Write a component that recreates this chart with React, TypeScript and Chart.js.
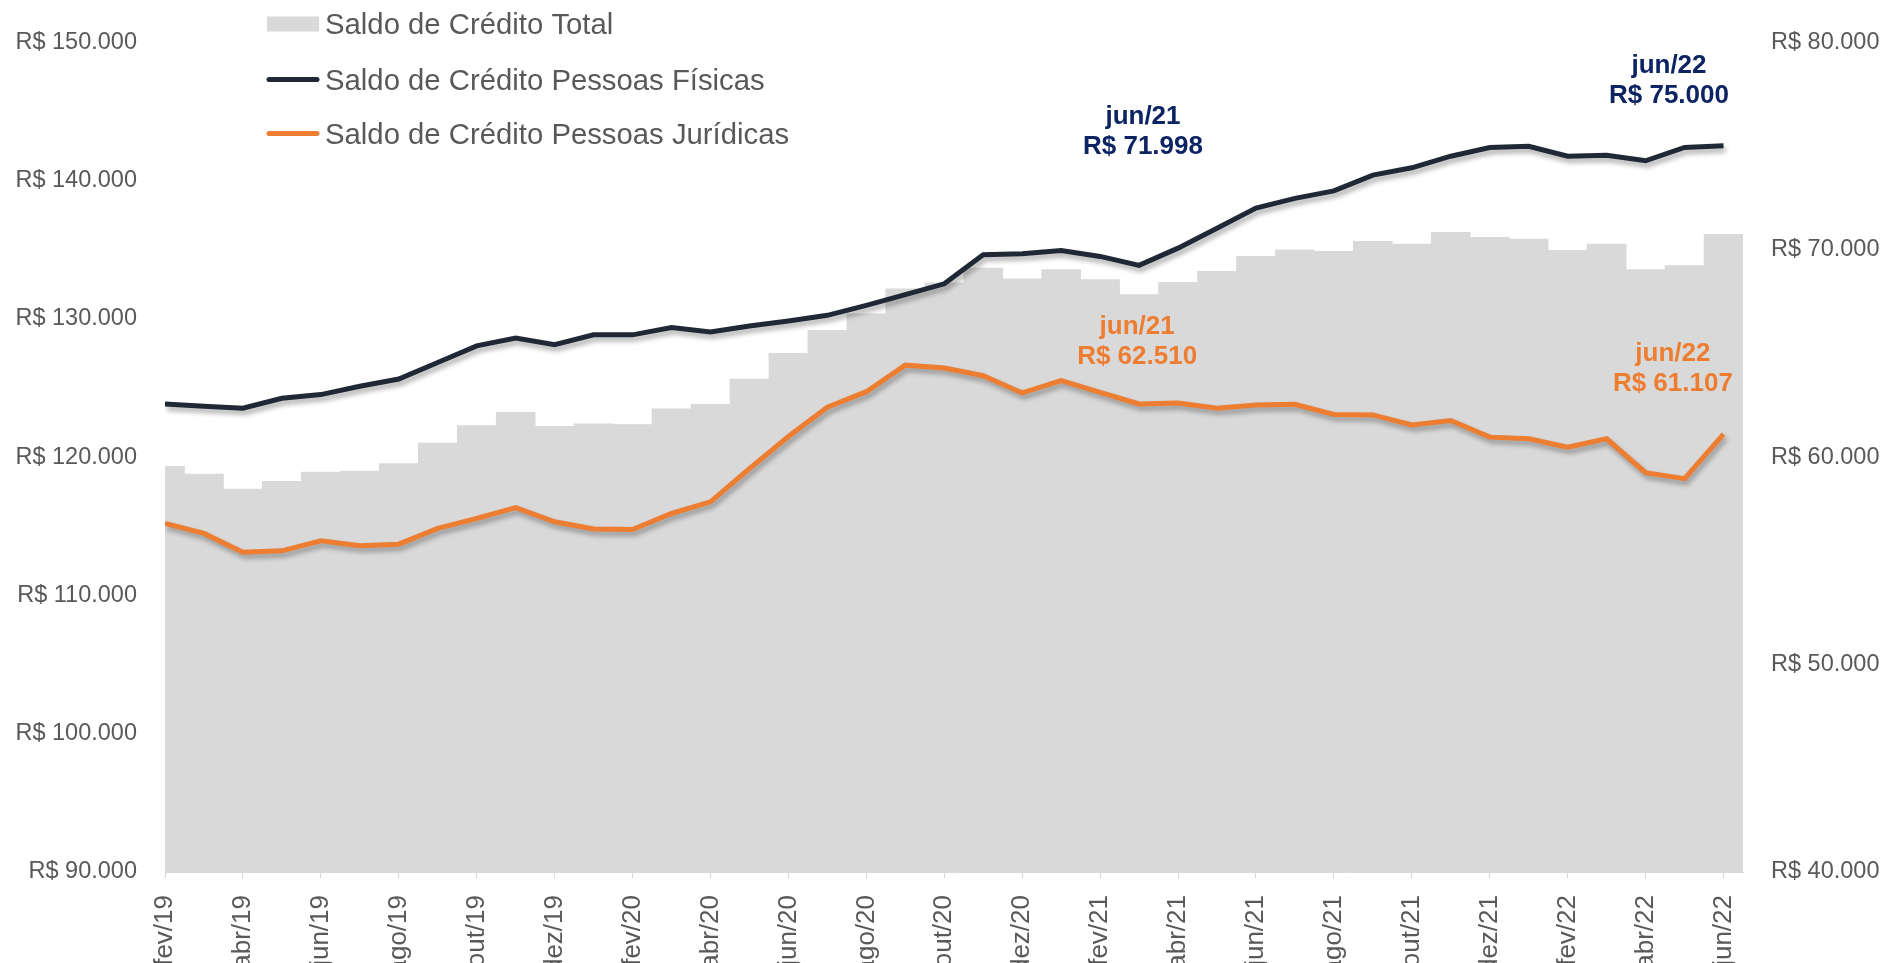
import React, { useEffect, useRef } from 'react';
import { Chart, registerables } from 'chart.js';

Chart.register(...registerables);

// ---------- DATA ----------
const MONTHS = [
  'fev/19', 'mar/19', 'abr/19', 'mai/19', 'jun/19', 'jul/19', 'ago/19', 'set/19', 'out/19', 'nov/19', 'dez/19',
  'jan/20', 'fev/20', 'mar/20', 'abr/20', 'mai/20', 'jun/20', 'jul/20', 'ago/20', 'set/20', 'out/20', 'nov/20', 'dez/20',
  'jan/21', 'fev/21', 'mar/21', 'abr/21', 'mai/21', 'jun/21', 'jul/21', 'ago/21', 'set/21', 'out/21', 'nov/21', 'dez/21',
  'jan/22', 'fev/22', 'mar/22', 'abr/22', 'mai/22', 'jun/22',
];

const SALDO_TOTAL = [
  119330, 118760, 117680, 118250, 118920, 118990, 119520, 121010, 122280, 123240, 122230,
  122400, 122350, 123480, 123810, 125630, 127500, 129160, 130360, 132160, 132600, 133670, 132880,
  133550, 132830, 131750, 132640, 133430, 134510, 134990, 134870, 135590, 135400, 136240, 135880,
  135760, 134940, 135400, 133550, 133840, 136110,
];

const SALDO_PF = [
  62560, 62450, 62350, 62830, 63010, 63410, 63760, 64560, 65360, 65740, 65420,
  65890, 65890, 66240, 66030, 66320, 66560, 66830, 67310, 67830, 68350, 69750, 69800,
  69960, 69670, 69240, 70070, 71030, 71998, 72470, 72830, 73590, 73940, 74500, 74920,
  74980, 74500, 74550, 74280, 74920, 75000,
];

const SALDO_PJ = [
  56800, 56320, 55410, 55480, 55960, 55720, 55800, 56560, 57040, 57560, 56880,
  56530, 56510, 57280, 57840, 59440, 60990, 62400, 63150, 64430, 64290, 63920, 63090,
  63680, 63120, 62560, 62610, 62350, 62510, 62540, 62050, 62030, 61550, 61760, 60960,
  60880, 60480, 60880, 59250, 58960, 61107,
];

const LEFT_AXIS = { min: 90000, max: 150000, step: 10000 };
const RIGHT_AXIS = { min: 40000, max: 80000, step: 10000 };
const LABEL_EVERY = 2;

const SERIES_NAMES = [
  'Saldo de Crédito Total',
  'Saldo de Crédito Pessoas Físicas',
  'Saldo de Crédito Pessoas Jurídicas',
];

// indices of highlighted months (jun/21 and jun/22)
const HIGHLIGHT_INDICES = [28, 40];

// ---------- STYLE ----------
const FONT = "'Liberation Sans', Arial, Helvetica, sans-serif";
const GRAY_TEXT = '#595959';
const BAR_GRAY = '#d9d9d9';
const PF_COLOR = '#1f2834';
const PJ_COLOR = '#ed7d31';
const NAVY = '#0d2463';

const fmt = (v: number) => 'R$ ' + Math.round(v).toString().replace(/\B(?=(\d{3})+(?!\d))/g, '.');

const shadowPlugin = {
  id: 'lineShadow',
  beforeDatasetDraw(chart: any, args: any) {
    const ds = chart.data.datasets[args.index];
    if (ds.type !== 'line') return;
    const ctx = chart.ctx;
    ctx.save();
    ctx.shadowColor = 'rgba(0,0,0,0.32)';
    ctx.shadowBlur = 5;
    ctx.shadowOffsetX = 2;
    ctx.shadowOffsetY = 4;
  },
  afterDatasetDraw(chart: any, args: any) {
    const ds = chart.data.datasets[args.index];
    if (ds.type !== 'line') return;
    chart.ctx.restore();
  },
};

const overlayPlugin = {
  id: 'overlay',
  afterDraw(chart: any) {
    const ctx = chart.ctx;
    ctx.save();
    // Legend
    const legendSize = 29.3;
    const legendY = [24, 79.5, 133.5];
    const sx0 = 267;
    const sx1 = 319;
    const tx = 325;
    ctx.font = `${legendSize}px ${FONT}`;
    ctx.textAlign = 'left';
    ctx.textBaseline = 'alphabetic';
    SERIES_NAMES.forEach((name, i) => {
      const y = legendY[i];
      if (i === 0) {
        ctx.fillStyle = BAR_GRAY;
        ctx.fillRect(sx0, y - 7.5, sx1 - sx0, 15);
      } else {
        ctx.strokeStyle = i === 1 ? PF_COLOR : PJ_COLOR;
        ctx.lineWidth = 5;
        ctx.lineCap = 'round';
        ctx.beginPath();
        ctx.moveTo(sx0 + 2, y);
        ctx.lineTo(sx1 - 2, y);
        ctx.stroke();
      }
      ctx.fillStyle = GRAY_TEXT;
      ctx.fillText(name, tx, y + 0.358 * legendSize);
    });

    // Callouts
    const xs = chart.scales.x;
    const ys = chart.scales.y1;
    const size = 26;
    ctx.font = `bold ${size}px ${FONT}`;
    ctx.textAlign = 'center';
    const callouts = [
      { series: SALDO_PF, idx: HIGHLIGHT_INDICES[0], dx: -2.9, v: 76520, color: NAVY },
      { series: SALDO_PF, idx: HIGHLIGHT_INDICES[1], dx: -1.4, v: 78945, color: NAVY },
      { series: SALDO_PJ, idx: HIGHLIGHT_INDICES[0], dx: -3.05, v: 66394, color: PJ_COLOR },
      { series: SALDO_PJ, idx: HIGHLIGHT_INDICES[1], dx: -1.3, v: 65084, color: PJ_COLOR },
    ];
    callouts.forEach((c) => {
      const x = xs.getPixelForValue(c.idx + c.dx);
      const y = ys.getPixelForValue(c.v);
      ctx.fillStyle = c.color;
      ctx.fillText(MONTHS[c.idx], x, y + 0.358 * size);
      ctx.fillText(fmt(c.series[c.idx]), x, y + 30 + 0.358 * size);
    });
    ctx.restore();
  },
};

export default function App() {
  const ref = useRef<HTMLCanvasElement>(null);

  useEffect(() => {
    if (!ref.current) return;
    const tickValues = MONTHS.map((_, i) => i).filter((i) => i % LABEL_EVERY === 0);
    const chart = new Chart(ref.current, {
      type: 'line',
      data: {
        datasets: [
          {
            type: 'line',
            label: SERIES_NAMES[1],
            data: SALDO_PF.map((v, i) => ({ x: i, y: v })),
            yAxisID: 'y1',
            borderColor: PF_COLOR,
            borderWidth: 5,
            pointRadius: 0,
            tension: 0,
            order: 0,
          } as any,
          {
            type: 'line',
            label: SERIES_NAMES[2],
            data: SALDO_PJ.map((v, i) => ({ x: i, y: v })),
            yAxisID: 'y1',
            borderColor: PJ_COLOR,
            borderWidth: 5,
            pointRadius: 0,
            tension: 0,
            order: 1,
          } as any,
          {
            type: 'bar',
            label: SERIES_NAMES[0],
            data: SALDO_TOTAL.map((v, i) => ({ x: i, y: v })),
            yAxisID: 'y',
            backgroundColor: BAR_GRAY,
            borderWidth: 0,
            barPercentage: 1,
            categoryPercentage: 1,
            clip: 0,
            order: 2,
          } as any,
        ],
      },
      options: {
        animation: false,
        responsive: true,
        maintainAspectRatio: false,
        layout: { padding: { top: 38, left: 0, right: 0, bottom: 0 } },
        plugins: {
          legend: { display: false },
          tooltip: { enabled: false },
        },
        scales: {
          x: {
            type: 'linear',
            min: 0,
            max: MONTHS.length - 0.5,
            offset: false,
            afterBuildTicks: (s: any) => {
              s.ticks = tickValues.map((v) => ({ value: v }));
            },
            afterFit: (s: any) => {
              s.height = 91;
            },
            ticks: {
              autoSkip: false,
              minRotation: 90,
              maxRotation: 90,
              padding: 17,
              color: GRAY_TEXT,
              font: { family: FONT, size: 26 },
              callback: (v: any) => MONTHS[v] ?? '',
            },
            grid: {
              display: true,
              drawOnChartArea: false,
              drawTicks: true,
              tickLength: 6,
              color: BAR_GRAY,
              offset: false,
            },
            border: { display: true, color: BAR_GRAY },
          },
          y: {
            type: 'linear',
            position: 'left',
            min: LEFT_AXIS.min,
            max: LEFT_AXIS.max,
            afterFit: (s: any) => {
              s.width = 165;
            },
            ticks: {
              stepSize: LEFT_AXIS.step,
              padding: 28,
              color: GRAY_TEXT,
              font: { family: FONT, size: 23.5 },
              callback: (v: any) => fmt(v),
            },
            grid: { display: false, drawTicks: false },
            border: { display: false },
          },
          y1: {
            type: 'linear',
            position: 'right',
            min: RIGHT_AXIS.min,
            max: RIGHT_AXIS.max,
            afterFit: (s: any) => {
              s.width = 142;
            },
            ticks: {
              stepSize: RIGHT_AXIS.step,
              padding: 28,
              color: GRAY_TEXT,
              font: { family: FONT, size: 23.5 },
              callback: (v: any) => fmt(v),
            },
            grid: { display: false, drawTicks: false },
            border: { display: false },
          },
        },
      } as any,
      plugins: [shadowPlugin, overlayPlugin],
    });
    return () => chart.destroy();
  }, []);

  return (
    <div style={{ position: 'fixed', left: 0, top: 0, width: 1885, height: 963, background: '#ffffff' }}>
      <canvas ref={ref} />
    </div>
  );
}
